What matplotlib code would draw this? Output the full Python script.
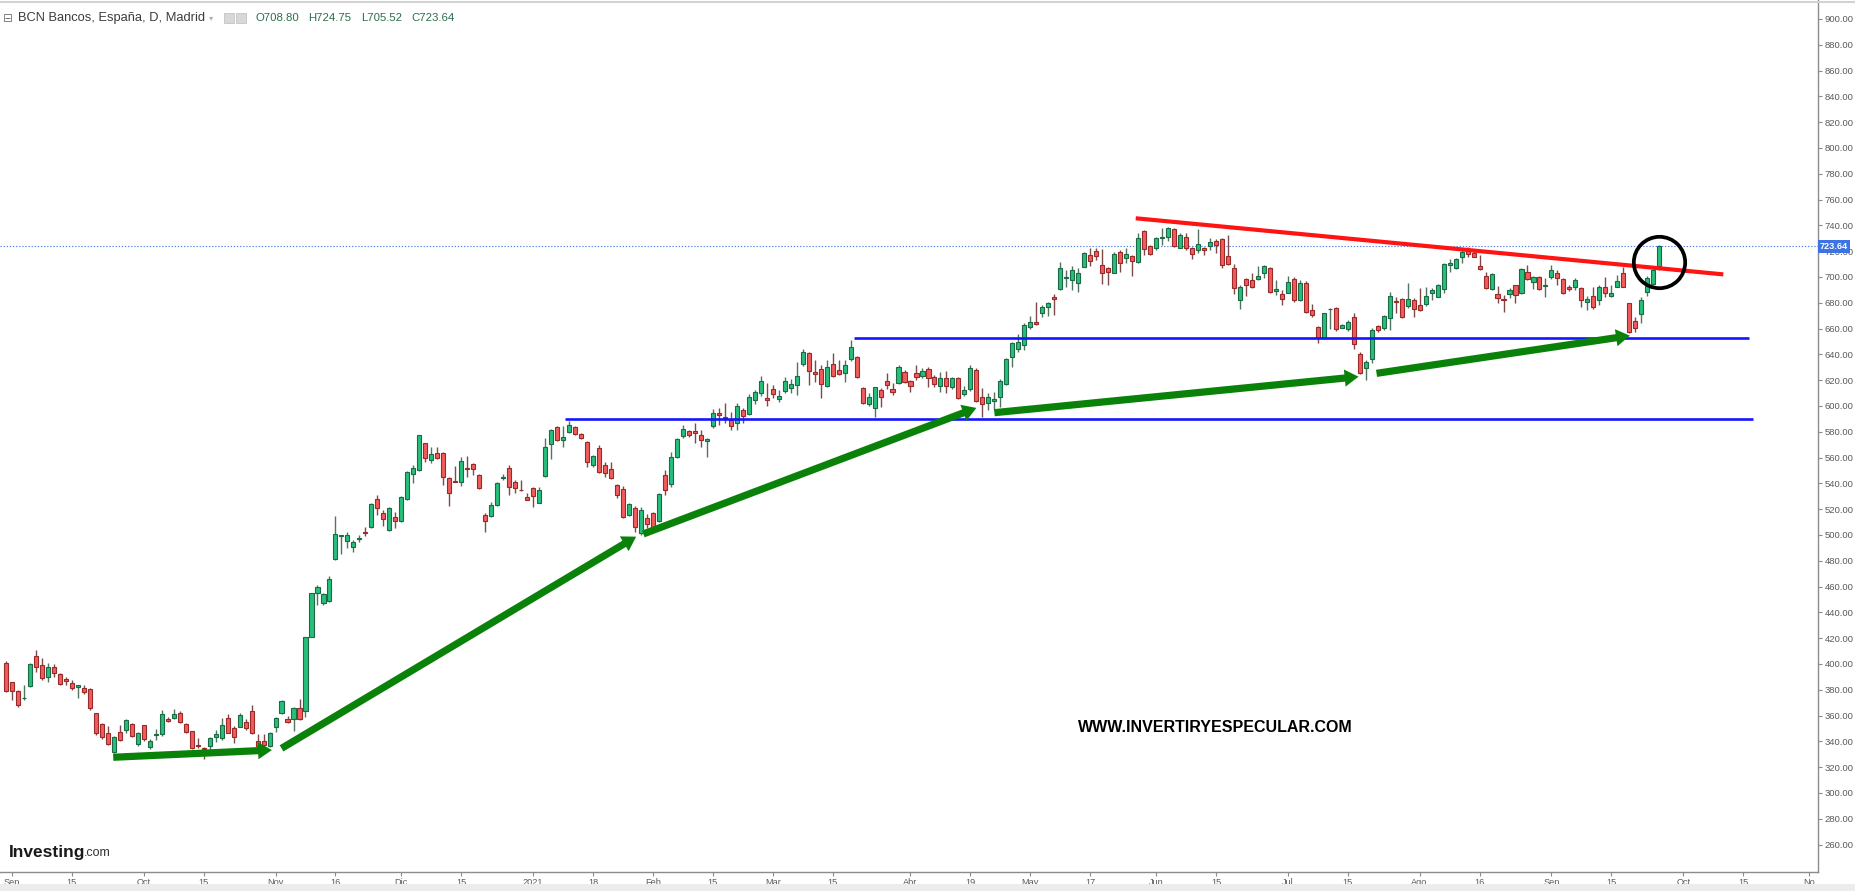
import numpy as np
import pandas as pd
import matplotlib
matplotlib.use("Agg")
import matplotlib.pyplot as plt
from matplotlib.patches import FancyArrowPatch, Rectangle
from matplotlib.ticker import FormatStrFormatter
import matplotlib.transforms as mtransforms

plt.rcParams['font.family'] = ['Liberation Sans', 'DejaVu Sans']

# ---------------- data ----------------
first_day = '2020-08-31'
market_holidays = ['2020-12-25', '2021-01-01', '2021-04-02', '2021-04-05']

opens = [
    400.5, 385.8, 379.0, 373.3, 382.9, 406.4, 399.2, 389.7, 397.4, 392.0,
    388.0, 385.0, 381.9, 381.1, 380.6, 361.7, 353.5, 346.8, 331.8, 347.5,
    348.8, 353.5, 338.0, 352.4, 335.9, 345.3, 345.5, 357.4, 358.4, 361.7,
    353.5, 347.8, 336.5, 335.0, 336.4, 343.1, 342.4, 357.9, 350.6, 351.4,
    355.3, 363.5, 340.0, 340.0, 336.4, 350.9, 361.7, 357.4, 357.6, 365.6,
    363.8, 421.2, 454.8, 447.1, 449.1, 481.2, 499.0, 495.7, 490.5, 496.7,
    501.8, 506.0, 527.7, 517.4, 503.9, 514.3, 511.2, 527.7, 547.3, 550.4,
    571.1, 558.2, 563.9, 563.9, 544.0, 542.2, 541.4, 551.7, 554.8, 546.6,
    515.6, 514.8, 523.3, 544.5, 551.7, 541.4, 535.0, 529.8, 536.2, 525.1,
    545.8, 570.6, 583.5, 573.7, 579.6, 584.0, 578.3, 572.4, 554.3, 567.2,
    554.3, 551.0, 538.8, 535.4, 515.6, 520.7, 501.3, 512.9, 517.4, 511.2,
    546.6, 539.6, 560.3, 576.8, 580.7, 580.4, 577.3, 572.9, 584.8, 594.4,
    591.8, 589.2, 586.6, 597.0, 593.6, 604.7, 610.0, 606.0, 613.0, 605.5,
    611.9, 613.7, 616.3, 632.3, 641.4, 626.1, 628.7, 615.5, 632.3, 627.9,
    625.9, 636.2, 637.8, 614.2, 601.6, 598.2, 612.5, 619.4, 612.9, 617.6,
    626.6, 619.4, 625.4, 623.3, 629.0, 622.8, 615.5, 621.5, 614.5, 621.5,
    609.0, 612.9, 627.9, 607.3, 602.1, 604.2, 606.7, 617.0, 637.7, 643.9,
    647.2, 661.5, 665.1, 672.3, 677.0, 684.7, 690.4, 699.0, 697.6, 695.6,
    708.0, 717.0, 720.1, 709.3, 706.7, 703.3, 719.6, 714.4, 716.2, 711.8,
    735.9, 724.0, 722.2, 730.0, 731.2, 736.9, 722.7, 730.8, 722.2, 720.9,
    722.2, 724.3, 728.2, 729.2, 716.3, 706.7, 682.2, 698.2, 697.7, 698.2,
    702.9, 706.7, 688.9, 686.6, 687.9, 698.5, 682.2, 695.1, 674.4, 661.5,
    652.5, 674.8, 675.7, 660.7, 659.4, 668.7, 640.3, 629.2, 636.2, 662.0,
    660.2, 668.0, 681.4, 682.7, 677.5, 682.2, 678.3, 679.1, 687.9, 684.8,
    690.4, 709.3, 706.7, 715.7, 720.9, 718.8, 708.5, 700.7, 690.4, 686.5,
    682.6, 686.8, 693.5, 687.3, 704.1, 696.3, 700.2, 692.8, 699.7, 703.3,
    698.1, 691.9, 691.9, 691.2, 680.8, 685.2, 682.1, 692.0, 685.2, 692.5,
    703.3, 679.5, 666.1, 671.3, 688.6, 694.5, 708.80,
]
highs = [
    402.0, 386.3, 379.5, 383.7, 400.5, 410.8, 404.4, 400.5, 400.0, 392.8,
    389.7, 387.6, 384.0, 383.7, 381.1, 362.0, 354.5, 351.9, 344.2, 352.7,
    357.1, 354.0, 347.5, 353.0, 341.6, 349.3, 364.3, 359.2, 364.8, 363.8,
    354.5, 348.3, 342.4, 335.9, 343.7, 348.8, 357.9, 361.2, 351.9, 361.7,
    357.0, 368.2, 345.7, 345.7, 347.5, 359.2, 372.0, 359.7, 366.4, 372.6,
    421.2, 455.3, 461.3, 455.3, 468.3, 514.8, 500.0, 502.6, 496.2, 500.0,
    506.0, 524.6, 531.1, 519.4, 521.5, 518.1, 530.3, 549.9, 554.3, 577.6,
    571.6, 568.5, 568.0, 564.6, 545.3, 553.5, 560.3, 561.3, 555.6, 547.3,
    516.8, 525.9, 541.4, 547.3, 554.3, 542.7, 542.7, 532.9, 537.5, 537.0,
    575.0, 582.0, 584.5, 584.5, 588.7, 584.5, 578.9, 573.2, 562.0, 569.8,
    556.9, 556.9, 539.6, 538.0, 524.6, 522.5, 522.0, 516.3, 518.1, 532.3,
    550.4, 564.6, 575.0, 585.3, 581.4, 586.6, 581.4, 575.0, 597.5, 598.2,
    602.1, 595.1, 602.1, 598.2, 609.3, 612.5, 623.0, 617.6, 616.3, 612.5,
    622.2, 620.7, 634.4, 644.0, 641.9, 635.7, 631.8, 635.7, 640.9, 635.7,
    635.7, 651.2, 638.8, 615.0, 609.8, 615.0, 613.7, 625.4, 617.6, 631.8,
    627.9, 620.2, 631.8, 629.2, 630.5, 624.1, 626.6, 627.4, 622.2, 622.8,
    615.5, 631.8, 629.2, 613.7, 609.8, 611.2, 620.6, 636.9, 649.8, 655.8,
    664.0, 669.7, 680.8, 678.3, 680.8, 686.8, 711.8, 705.4, 708.5, 706.7,
    719.6, 722.2, 722.2, 721.4, 708.0, 719.6, 720.9, 722.2, 717.0, 733.8,
    736.4, 724.8, 731.2, 737.7, 738.5, 737.7, 733.9, 733.9, 723.5, 737.0,
    723.5, 730.0, 729.2, 730.0, 732.6, 710.1, 693.8, 699.0, 703.4, 708.5,
    709.3, 707.5, 697.7, 689.9, 700.8, 700.3, 697.7, 696.9, 679.1, 662.0,
    672.3, 675.7, 677.0, 663.6, 666.7, 671.8, 642.1, 635.7, 660.2, 662.8,
    670.5, 688.6, 684.8, 683.5, 695.1, 683.5, 691.2, 692.5, 691.2, 694.6,
    710.6, 713.7, 714.5, 720.9, 723.0, 721.4, 717.0, 704.1, 702.8, 693.0,
    686.0, 691.2, 693.8, 707.2, 709.3, 700.7, 700.7, 698.9, 709.3, 705.4,
    698.9, 693.8, 698.9, 692.5, 685.2, 692.0, 693.8, 699.7, 693.8, 701.5,
    707.5, 680.0, 668.7, 684.2, 700.7, 706.7, 724.75,
]
lows = [
    378.0, 372.0, 367.0, 372.0, 382.5, 394.0, 387.6, 386.3, 389.7, 383.7,
    383.7, 379.8, 373.4, 377.0, 364.3, 345.0, 341.6, 337.0, 330.7, 340.6,
    346.2, 343.7, 336.4, 340.6, 333.8, 341.1, 344.2, 355.3, 357.6, 354.0,
    346.8, 334.4, 334.6, 326.0, 329.4, 339.8, 341.1, 346.3, 339.0, 350.9,
    349.0, 345.7, 335.9, 336.4, 335.9, 347.5, 361.2, 354.0, 348.3, 356.6,
    359.2, 420.7, 445.8, 445.8, 448.4, 480.7, 485.3, 489.7, 487.1, 494.9,
    499.3, 505.2, 515.6, 507.0, 503.4, 505.2, 510.4, 527.2, 540.1, 549.9,
    556.9, 556.1, 558.7, 538.8, 522.5, 541.0, 538.0, 545.3, 546.6, 536.0,
    502.6, 514.3, 522.5, 542.7, 531.1, 532.3, 534.4, 527.2, 522.0, 524.6,
    545.3, 558.7, 573.2, 568.0, 578.9, 577.6, 574.2, 553.0, 553.0, 548.4,
    545.3, 543.7, 528.5, 513.0, 514.8, 502.6, 500.0, 505.2, 506.0, 510.4,
    531.1, 537.0, 559.5, 575.0, 575.8, 571.6, 568.5, 560.8, 582.7, 585.3,
    587.1, 581.4, 581.4, 586.6, 592.8, 601.6, 608.0, 600.0, 606.0, 603.4,
    610.4, 609.8, 608.5, 631.0, 616.3, 618.9, 606.0, 614.5, 622.8, 624.0,
    618.9, 635.2, 621.5, 601.6, 600.0, 591.8, 599.5, 613.0, 608.5, 617.1,
    618.1, 611.2, 620.2, 621.5, 614.5, 614.5, 611.2, 609.8, 613.0, 605.2,
    607.8, 611.9, 603.4, 591.8, 597.0, 597.0, 599.4, 616.2, 630.4, 642.1,
    643.4, 659.4, 662.7, 669.2, 669.7, 670.5, 689.9, 692.5, 689.9, 688.6,
    707.5, 708.5, 713.1, 694.3, 693.8, 702.8, 704.1, 710.6, 700.7, 711.1,
    717.0, 717.0, 720.9, 724.8, 728.1, 723.5, 722.2, 721.0, 713.7, 718.4,
    717.1, 721.0, 718.9, 707.2, 709.3, 686.8, 675.0, 685.3, 691.2, 697.7,
    699.0, 687.9, 686.1, 678.3, 687.4, 680.9, 681.7, 671.8, 669.3, 648.6,
    651.7, 659.4, 658.4, 660.2, 658.4, 643.9, 624.8, 620.2, 633.1, 657.6,
    658.9, 658.9, 671.8, 668.0, 675.7, 669.3, 673.9, 677.5, 682.2, 684.3,
    687.9, 704.1, 706.0, 711.1, 715.7, 715.2, 705.4, 690.4, 689.9, 680.1,
    673.1, 683.4, 679.5, 686.8, 697.6, 690.4, 689.9, 684.7, 698.1, 693.8,
    686.8, 689.4, 689.9, 677.0, 674.4, 675.4, 678.3, 684.2, 684.7, 692.0,
    692.0, 656.8, 657.6, 664.0, 685.2, 693.8, 705.52,
]
closes = [
    379.0, 379.0, 368.0, 373.8, 399.7, 397.7, 388.9, 397.4, 392.8, 384.2,
    387.0, 381.4, 384.0, 378.5, 365.6, 346.2, 343.1, 338.0, 343.7, 341.1,
    356.6, 344.2, 346.8, 341.6, 340.6, 345.7, 361.0, 355.8, 361.0, 354.8,
    347.5, 334.9, 336.2, 333.8, 342.4, 345.7, 352.7, 346.8, 343.7, 360.5,
    350.1, 346.2, 336.7, 337.2, 346.8, 357.9, 371.5, 354.8, 365.9, 357.1,
    420.7, 454.8, 459.5, 454.0, 465.7, 500.8, 499.3, 500.0, 494.9, 498.0,
    501.3, 524.1, 520.7, 512.2, 520.7, 511.2, 529.8, 549.1, 551.7, 577.6,
    559.5, 562.8, 559.5, 545.3, 532.3, 541.4, 557.4, 550.9, 550.9, 536.2,
    511.2, 523.3, 540.6, 544.9, 537.5, 536.2, 534.5, 527.2, 530.3, 534.9,
    568.0, 581.4, 573.7, 575.8, 585.3, 578.3, 575.0, 556.9, 561.3, 549.1,
    547.9, 544.5, 531.1, 514.3, 523.8, 506.5, 519.4, 508.6, 506.5, 531.6,
    534.9, 560.8, 574.2, 581.8, 577.6, 578.9, 573.7, 574.2, 594.9, 592.8,
    590.5, 584.5, 600.0, 592.3, 606.8, 610.6, 619.0, 604.5, 609.3, 607.8,
    619.7, 617.1, 623.3, 642.2, 627.4, 624.8, 617.1, 630.5, 623.3, 624.8,
    631.8, 645.5, 622.8, 602.6, 606.8, 614.5, 606.8, 616.1, 610.9, 630.0,
    618.9, 615.8, 622.8, 627.4, 622.0, 617.1, 621.5, 615.5, 621.5, 606.0,
    612.5, 629.2, 604.2, 601.3, 607.3, 605.2, 619.6, 636.1, 648.5, 649.8,
    662.7, 665.3, 663.5, 677.0, 680.1, 682.6, 706.7, 699.4, 705.4, 702.8,
    718.8, 712.4, 716.5, 702.8, 704.1, 717.8, 711.1, 717.8, 712.6, 729.9,
    721.4, 717.8, 729.9, 731.2, 737.7, 724.0, 732.6, 722.7, 717.6, 725.3,
    721.0, 727.4, 724.8, 709.3, 709.8, 691.2, 692.0, 693.8, 692.0, 700.8,
    708.5, 688.6, 690.4, 682.7, 696.4, 682.2, 695.1, 673.1, 670.5, 652.5,
    671.8, 675.2, 659.4, 662.5, 665.4, 648.1, 625.9, 634.4, 658.9, 658.9,
    669.8, 685.3, 680.9, 668.7, 682.7, 675.0, 674.4, 685.3, 689.9, 693.8,
    709.8, 710.6, 713.7, 719.6, 717.5, 715.7, 705.9, 691.2, 702.3, 683.4,
    681.9, 689.9, 686.0, 706.4, 698.2, 699.7, 690.4, 693.2, 705.4, 698.9,
    687.8, 690.9, 697.6, 682.1, 682.6, 677.0, 692.5, 687.3, 687.8, 697.1,
    692.5, 657.6, 660.2, 682.1, 699.0, 705.4, 723.64,
]
assert len(opens) == len(highs) == len(lows) == len(closes)

tick_dates = ['2020-09-01', '2020-09-15', '2020-10-01', '2020-10-15', '2020-11-02',
              '2020-11-16', '2020-12-01', '2020-12-15', '2021-01-04', '2021-01-18',
              '2021-02-01', '2021-02-15', '2021-03-01', '2021-03-15', '2021-04-01',
              '2021-04-19', '2021-05-03', '2021-05-17', '2021-06-01', '2021-06-15',
              '2021-07-01', '2021-07-15', '2021-08-02', '2021-08-16', '2021-09-01',
              '2021-09-15', '2021-10-01', '2021-10-15', '2021-11-01']
tick_labels = ['Sep', '15', 'Oct', '15', 'Nov', '16', 'Dic', '15', '2021', '18',
               'Feb', '15', 'Mar', '15', 'Abr', '19', 'May', '17', 'Jun', '15',
               'Jul', '15', 'Ago', '16', 'Sep', '15', 'Oct', '15', 'No']
price_ticks = list(range(260, 901, 20))

# drawn annotations (x in trading-day units, y in price)
support_levels = [589.7, 652.5]
support_start = [93.3, 141.5]
support_end = [291.7, 291.0]
resistance_x = [188.6, 286.7]
resistance_y = [745.5, 702.0]
arrow_start_x = [17.9, 46.0, 106.4, 165.0, 228.8]
arrow_start_y = [327.7, 334.6, 500.8, 594.8, 625.3]
arrow_end_x = [44.4, 105.2, 162.0, 225.8, 271.1]
arrow_end_y = [333.3, 498.7, 598.5, 622.7, 654.5]
circle_y = 711.6

# ---------------- figure ----------------
W, H = 1855, 891
fig = plt.figure(figsize=(W / 100, H / 100), dpi=100)
fig.patch.set_facecolor('white')
ax = fig.add_axes([0, 19 / H, 1818 / W, 872 / H])
ax.set_facecolor('white')

o = np.array(opens); h = np.array(highs); l = np.array(lows); c = np.array(closes)
x = np.arange(len(o))
up = c >= o
fill = np.where(up, '#27bf7b', '#f05c5c')
edge = np.where(up, '#1c6a45', '#9a2a2a')
wick = np.where(up, '#52735f', '#7d4a4a')

ax.vlines(x, l, h, colors=wick, linewidth=1.0, zorder=2)
body_bottom = np.minimum(o, c)
body_h = np.maximum(np.abs(c - o), 0.7)
ax.bar(x, body_h, bottom=body_bottom, width=0.68, color=fill, edgecolor=edge,
       linewidth=0.8, zorder=3)

ax.set_xlim(-1.0, 302.5)
ax.set_ylim(238.76, 914.7)

# last price dotted line + label
last = closes[-1]
ax.axhline(last, color='#4f7fe6', linestyle=(0, (1.2, 1.6)), linewidth=0.8, zorder=1)
trans = mtransforms.blended_transform_factory(ax.transAxes, ax.transData)
ax.text(1.0 + 2 / 1818, last, f'{last:.2f}', transform=trans, ha='left', va='center',
        fontsize=6.6, color='white', fontweight='bold', clip_on=False, zorder=10,
        bbox=dict(boxstyle='square,pad=0.22', fc='#3e73e3', ec='none'))

# support lines
for lvl, s, e in zip(support_levels, support_start, support_end):
    ax.plot([s, e], [lvl, lvl], color='#1414ff', linewidth=1.9, zorder=4,
            solid_capstyle='butt')

# resistance
ax.plot(resistance_x, resistance_y, color='#ff1414', linewidth=3.0, zorder=4,
        solid_capstyle='butt')

# green arrows
for sx, sy, ex, ey in zip(arrow_start_x, arrow_start_y, arrow_end_x, arrow_end_y):
    arr = FancyArrowPatch((sx, sy), (ex, ey),
                          arrowstyle='simple,head_length=0.5,head_width=0.62,tail_width=0.26',
                          mutation_scale=20, color='#0a820a', lw=0, zorder=5,
                          shrinkA=0, shrinkB=0)
    ax.add_patch(arr)

# circle around last candle
ax.plot([x[-1]], [circle_y], marker='o', markersize=37, markerfacecolor='none',
        markeredgecolor='black', markeredgewidth=2.7, zorder=6, clip_on=False)

# axes styling
for s in ['top', 'left']:
    ax.spines[s].set_visible(False)
for s in ['right', 'bottom']:
    ax.spines[s].set_color('#8c8c8c')
    ax.spines[s].set_linewidth(1.0)

ax.yaxis.tick_right()
ax.set_yticks(price_ticks)
ax.yaxis.set_major_formatter(FormatStrFormatter('%.2f'))
ax.tick_params(axis='y', length=3, width=0.8, color='#8c8c8c', labelsize=6.8,
               labelcolor='#5a5a5a', pad=2)

days = pd.bdate_range(first_day, '2021-12-31')
days = days[~days.isin(pd.to_datetime(market_holidays))]
tick_pos = [days.get_loc(pd.Timestamp(d)) for d in tick_dates]
ax.set_xticks(tick_pos)
ax.set_xticklabels(tick_labels)
ax.tick_params(axis='x', length=3, width=0.8, color='#8c8c8c', labelsize=6.6,
               labelcolor='#5a5a5a', pad=1.5)

# ---------------- header / watermarks ----------------
def fy(py):
    return 1 - py / H

fig.add_artist(plt.Line2D([0, 1], [fy(1.5), fy(1.5)], color='#d2d2d2', linewidth=1.5))
fig.patches.append(Rectangle((0, 0), 1, 7 / H, transform=fig.transFigure,
                             facecolor='#ececec', edgecolor='none', zorder=0))

fig.text(3 / W, fy(18), '\u229f', fontsize=8.5, color='#777777', va='center',
         family=['DejaVu Sans'])
fig.text(18 / W, fy(18), 'BCN Bancos, España, D, Madrid', fontsize=9.3,
         color='#3c3c3c', va='center')
fig.text(209 / W, fy(18), '\u25be', fontsize=6, color='#b0b0b0', va='center',
         family=['DejaVu Sans'])
for px in [224, 236]:
    fig.patches.append(Rectangle((px / W, fy(23)), 10 / W, 10 / H,
                                 transform=fig.transFigure, facecolor='#d8d8d8',
                                 edgecolor='#c4c4c4', linewidth=0.6))
ohlc_labels = [f'O{opens[-1]:.2f}', f'H{highs[-1]:.2f}', f'L{lows[-1]:.2f}',
               f'C{closes[-1]:.2f}']
for px, txt in zip([256, 308, 361, 411], ohlc_labels):
    fig.text(px / W, fy(18), txt, fontsize=8.2, color='#2a6e4b', va='center')

fig.text(1215 / W, fy(728), 'WWW.INVERTIRYESPECULAR.COM', ha='center', va='center',
         fontsize=11.5, fontweight='bold', color='black')

logo = fig.text(9 / W, fy(857), 'Investing', fontsize=12.5, fontweight='bold',
                color='#1a1a1a', va='baseline')
ax.annotate('.com', xy=(1, 0), xycoords=logo, xytext=(-1.5, 0.5),
            textcoords='offset points', va='bottom', ha='left', fontsize=9,
            color='#333333', annotation_clip=False)

fig.savefig('out.png', dpi=100, facecolor='white')
